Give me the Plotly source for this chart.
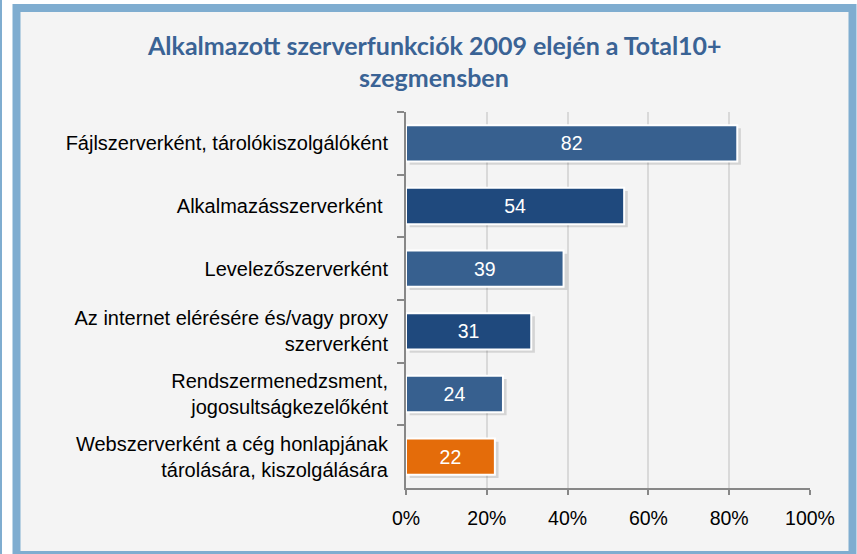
import plotly.graph_objects as go

categories = [
    "Fájlszerverként, tárolókiszolgálóként",
    "Alkalmazásszerverként\u00a0",
    "Levelezőszerverként",
    "Az internet elérésére és/vagy proxy<br>szerverként",
    "Rendszermenedzsment,<br>jogosultságkezelőként",
    "Webszerverként a cég honlapjának<br>tárolására, kiszolgálására",
]
values = [82, 54, 39, 31, 24, 22]
bar_colors = ["#37608f", "#1f497d", "#37608f", "#1f497d", "#37608f", "#e46c0a"]
x_tickvals = [0, 20, 40, 60, 80, 100]
x_ticktext = ["0%", "20%", "40%", "60%", "80%", "100%"]
title_lines = ["Alkalmazott szerverfunkciók 2009 elején a Total10+", "szegmensben"]

W, H = 857, 554
L, R, T, B = 406, 810, 112, 488
pw, ph = R - L, B - T
FONT = "Liberation Sans, Arial, sans-serif"
BAR_W = 0.58


def px_x(p):
    return (p - L) / pw


def px_y(p):
    return 1 - (p - T) / ph


fig = go.Figure()
# soft drop shadow behind bars
fig.add_trace(go.Bar(
    y=categories,
    x=values,
    base=0.9,
    orientation="h",
    marker=dict(color="rgba(0,0,0,0.13)", line=dict(width=0)),
    width=BAR_W,
    offset=-BAR_W / 2 + 0.05,
    hoverinfo="skip",
))
fig.add_trace(go.Bar(
    y=categories,
    x=values,
    orientation="h",
    marker=dict(color=bar_colors, line=dict(color="white", width=2)),
    width=BAR_W,
    offset=-BAR_W / 2,
    text=[str(v) for v in values],
    textposition="inside",
    insidetextanchor="middle",
    textfont=dict(color="white", size=19.5, family=FONT),
    textangle=0,
    constraintext="none",
    hoverinfo="skip",
))

shapes = [
    dict(type="rect", xref="paper", yref="paper", layer="below",
         x0=px_x(16.5), x1=px_x(852.5), y0=px_y(555), y1=px_y(8),
         fillcolor="#f4f4f4", line=dict(color="#7fadd0", width=8)),
    dict(type="line", xref="paper", yref="paper", layer="below",
         x0=px_x(1), x1=px_x(1), y0=px_y(0), y1=px_y(554),
         line=dict(color="#7fadd0", width=2)),
]

annotations = [
    dict(text="<b>%s</b>" % title_lines[0], xref="paper", yref="paper",
         x=px_x(434), y=px_y(45), showarrow=False, xanchor="center", yanchor="middle",
         font=dict(family="Lato, Open Sans, sans-serif", size=25, color="#3a6395")),
    dict(text="<b>%s</b>" % title_lines[1], xref="paper", yref="paper",
         x=px_x(434), y=px_y(77), showarrow=False, xanchor="center", yanchor="middle",
         font=dict(family="Lato, Open Sans, sans-serif", size=25, color="#3a6395")),
]

fig.update_layout(
    width=W, height=H,
    margin=dict(l=L, r=W - R, t=T, b=H - B, pad=0),
    paper_bgcolor="white",
    plot_bgcolor="rgba(0,0,0,0)",
    showlegend=False,
    barmode="overlay",
    shapes=shapes,
    annotations=annotations,
    font=dict(family=FONT, size=20, color="black"),
)
fig.update_xaxes(
    range=[0, 100], tickvals=x_tickvals, ticktext=x_ticktext,
    showgrid=True, gridcolor="#d9d9d9", gridwidth=2,
    showline=True, linecolor="#878787", linewidth=2,
    ticks="outside", ticklen=5, tickcolor="#878787", tickwidth=2,
    ticklabelstandoff=7,
    tickfont=dict(size=19.5, family=FONT, color="black"),
    zeroline=False, fixedrange=True,
)
fig.update_yaxes(
    autorange="reversed",
    showline=True, linecolor="#878787", linewidth=2,
    ticks="outside", ticklen=7, tickcolor="#878787", tickwidth=2,
    tickson="boundaries",
    ticklabelstandoff=12,
    tickfont=dict(size=20, family=FONT, color="black"),
    showgrid=False, fixedrange=True,
)

fig.write_html("out.html", config={"displayModeBar": False})
